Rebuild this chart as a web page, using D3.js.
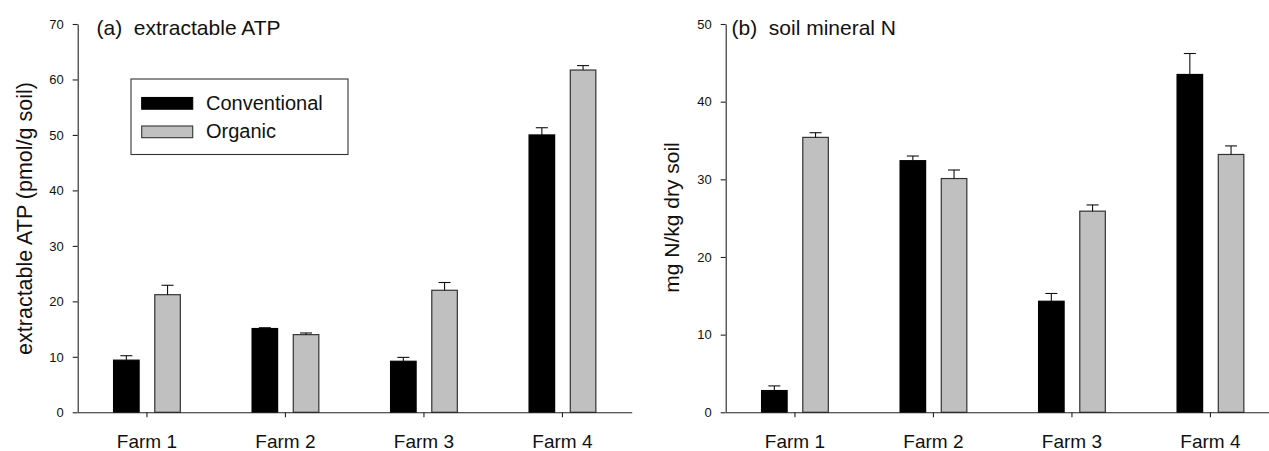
<!DOCTYPE html>
<html>
<head>
<meta charset="utf-8">
<script src="https://cdn.jsdelivr.net/npm/d3@7"></script>
<style>
  html, body { margin: 0; padding: 0; background: #fff; }
  svg { display: block; font-family: Arial, "Liberation Sans", Helvetica, sans-serif; }
</style>
</head>
<body>
<svg id="chart" width="1269" height="451"></svg>
<script>
// ---- data ----
const farms = ["Farm 1", "Farm 2", "Farm 3", "Farm 4"];
const series = ["Conventional", "Organic"];

const atpConventional = [9.4, 15.1, 9.2, 50.0];
const atpConventionalErr = [0.8, 0.15, 0.7, 1.3];
const atpOrganic = [21.2, 14.0, 22.0, 61.7];
const atpOrganicErr = [1.7, 0.3, 1.4, 0.8];

const nConventional = [2.8, 32.4, 14.3, 43.5];
const nConventionalErr = [0.6, 0.6, 1.0, 2.7];
const nOrganic = [35.4, 30.1, 25.9, 33.2];
const nOrganicErr = [0.6, 1.1, 0.8, 1.1];

const atpTicks = [0, 10, 20, 30, 40, 50, 60, 70];
const nTicks = [0, 10, 20, 30, 40, 50];

const svg = d3.select("#chart");
const colors = { Conventional: "#000000", Organic: "#c0c0c0" };
const strokes = { Conventional: "#000000", Organic: "#333333" };

function panel(opts) {
  const g = svg.append("g");
  const x = d3.scaleBand().domain(farms).range([opts.x0, opts.x0 + 554])
    .paddingInner(0.518).paddingOuter(0.259);
  const xs = d3.scaleBand().domain(series).range([0, x.bandwidth()]).paddingInner(0.38);
  const y = d3.scaleLinear().domain([0, opts.max]).range([412.3, 24]);

  const rows = [];
  farms.forEach((f, i) => {
    rows.push({ farm: f, s: "Conventional", v: opts.conv[i], e: opts.convErr[i] });
    rows.push({ farm: f, s: "Organic", v: opts.org[i], e: opts.orgErr[i] });
  });

  // bars
  g.selectAll("rect.bar").data(rows).join("rect")
    .attr("class", "bar")
    .attr("x", d => x(d.farm) + xs(d.s))
    .attr("y", d => y(d.v))
    .attr("width", xs.bandwidth())
    .attr("height", d => y(0) - y(d.v))
    .attr("fill", d => colors[d.s])
    .attr("stroke", d => strokes[d.s])
    .attr("stroke-width", 1.2);

  // error bars (upper)
  const eb = g.selectAll("g.err").data(rows).join("g").attr("class", "err")
    .attr("stroke", "#111").attr("stroke-width", 1.1);
  eb.append("line")
    .attr("x1", d => x(d.farm) + xs(d.s) + xs.bandwidth() / 2)
    .attr("x2", d => x(d.farm) + xs(d.s) + xs.bandwidth() / 2)
    .attr("y1", d => y(d.v))
    .attr("y2", d => y(d.v + d.e));
  eb.append("line")
    .attr("x1", d => x(d.farm) + xs(d.s) + xs.bandwidth() / 2 - 6)
    .attr("x2", d => x(d.farm) + xs(d.s) + xs.bandwidth() / 2 + 6)
    .attr("y1", d => y(d.v + d.e))
    .attr("y2", d => y(d.v + d.e));

  // axes
  const yAxis = d3.axisLeft(y).tickValues(opts.ticks).tickSize(5).tickSizeOuter(0).tickPadding(9);
  const ya = g.append("g").attr("transform", `translate(${opts.x0},0)`).call(yAxis);
  ya.selectAll("text").attr("font-size", 13).attr("fill", "#111").attr("font-family", null);
  ya.selectAll("line, path").attr("stroke", "#222").attr("stroke-width", 1.1);

  const xAxis = d3.axisBottom(x).tickSize(5).tickSizeOuter(0).tickPadding(17.5);
  const xa = g.append("g").attr("transform", `translate(0,${y(0)})`).call(xAxis);
  xa.selectAll("text").attr("font-size", 19).attr("fill", "#111").attr("font-family", null);
  xa.selectAll("line, path").attr("stroke", "#222").attr("stroke-width", 1.1);

  // y label
  g.append("text")
    .attr("transform", `translate(${opts.labelX},${opts.labelY}) rotate(-90)`)
    .attr("text-anchor", "middle")
    .attr("font-size", opts.labelSize)
    .attr("fill", "#111")
    .text(opts.ylabel);

  // title
  g.append("text")
    .attr("x", opts.titleX).attr("y", opts.titleY)
    .attr("font-size", 21)
    .attr("fill", "#111")
    .style("white-space", "pre")
    .text(opts.title);
  return g;
}

panel({
  x0: 77.7, max: 70, ticks: atpTicks,
  conv: atpConventional, convErr: atpConventionalErr,
  org: atpOrganic, orgErr: atpOrganicErr,
  ylabel: "extractable ATP (pmol/g soil)", labelX: 32, labelY: 218.5, labelSize: 21.5,
  title: "(a)  extractable ATP", titleX: 96.5, titleY: 35
});

panel({
  x0: 725.7, max: 50, ticks: nTicks,
  conv: nConventional, convErr: nConventionalErr,
  org: nOrganic, orgErr: nOrganicErr,
  ylabel: "mg N/kg dry soil", labelX: 679, labelY: 217.5, labelSize: 21,
  title: "(b)  soil mineral N", titleX: 731.5, titleY: 34.5
});

// legend (panel a)
const lg = svg.append("g");
lg.append("rect").attr("x", 131).attr("y", 79).attr("width", 217).attr("height", 75.5)
  .attr("fill", "#fff").attr("stroke", "#333").attr("stroke-width", 1.1);
const legendRows = lg.selectAll("g.li").data(series).join("g").attr("class", "li")
  .attr("transform", (d, i) => `translate(0,${i * 28.5})`);
legendRows.append("rect")
  .attr("x", 141.7).attr("y", 97.5).attr("width", 51).attr("height", 11.7)
  .attr("fill", d => colors[d]).attr("stroke", d => strokes[d]).attr("stroke-width", 1.1);
legendRows.append("text")
  .attr("x", 206).attr("y", 109.5)
  .attr("font-size", 20).attr("fill", "#111")
  .text(d => d);
</script>
</body>
</html>
